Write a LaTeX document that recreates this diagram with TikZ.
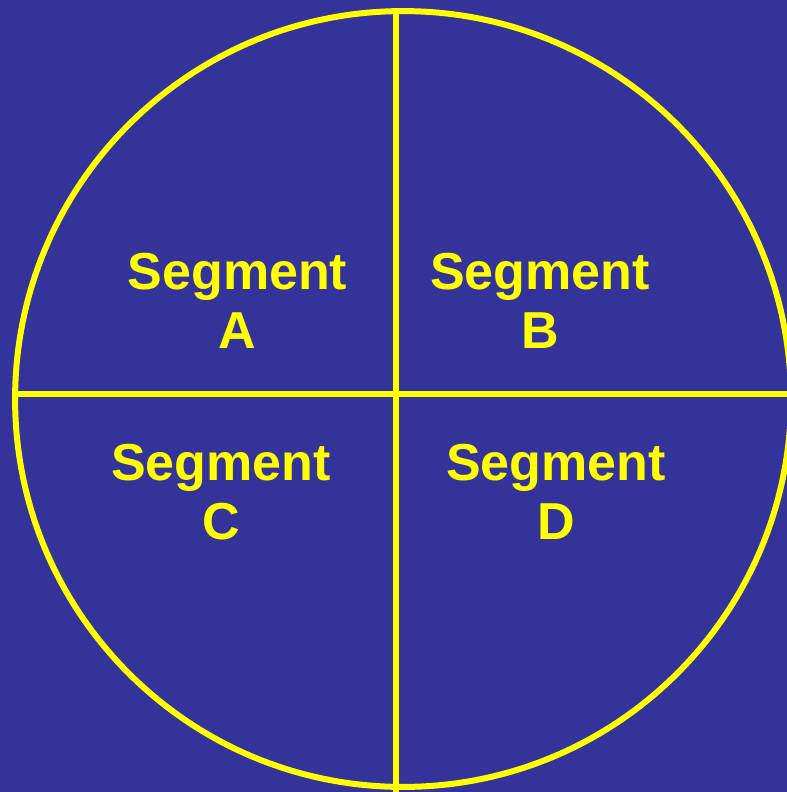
\documentclass[tikz,border=0pt]{standalone}
\usepackage{fontspec}
\setmainfont{Liberation Sans}
\usepackage{tikz}
\definecolor{navyblue}{RGB}{51,51,153}
\definecolor{lemon}{RGB}{255,255,0}

\begin{document}
\begin{tikzpicture}[x=0.02cm,y=-0.02cm]
  \fill[navyblue] (0,0) rectangle (787,792);
  \useasboundingbox (0,0) rectangle (787,792);
  \clip (0,0) rectangle (787,792);
  % circle cut into four segments
  \coordinate (mid) at (403,399);
  \draw[lemon,line width=0.12cm] (mid) circle[radius=7.76cm];
  \draw[lemon,line width=0.12cm] (396,11) -- (396,800);
  \draw[lemon,line width=0.12cm] (15,393.7) -- (800,393.7);
  % labels
  \tikzset{every node/.style={lemon,font=\fontsize{29.6}{33.4}\selectfont\bfseries,align=center,anchor=base,inner sep=0pt}}
  \node (segA) at (237.5,348) {Segment\\A};
  \node (segB) at (540,348) {Segment\\B};
  \node (segC) at (221,539) {Segment\\C};
  \node (segD) at (556,539) {Segment\\D};
\end{tikzpicture}
\end{document}
